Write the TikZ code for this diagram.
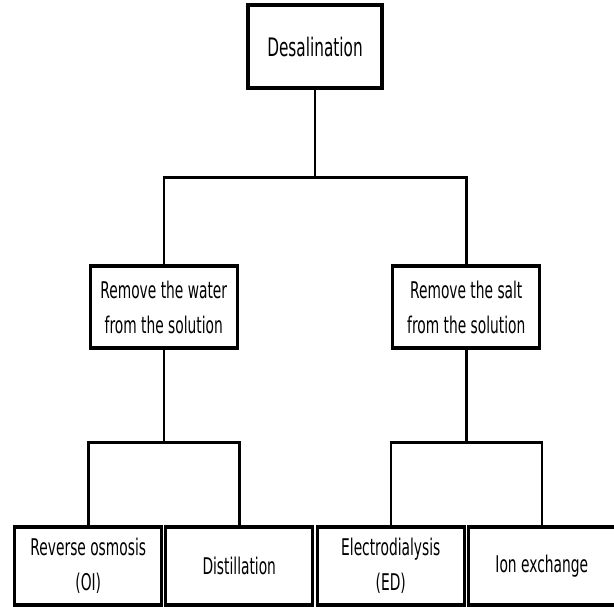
\documentclass[tikz,border=0pt]{standalone}
\usepackage{fontspec}
\setmainfont{DejaVu Sans}[FakeStretch=0.6]
\usetikzlibrary{trees}

\begin{document}
\begin{tikzpicture}[%
  x=1pt, y=1pt,
  every node/.style={draw, line width=3.2pt, align=center, inner sep=2pt,
    font=\fontsize{23}{35}\selectfont},
  edge from parent/.style={draw, line width=2.5pt},
  level 1/.style={sibling distance=302.5pt, level distance=260.5pt,
    nodes={minimum width=147pt, minimum height=82pt},
    edge from parent path={(\tikzparentnode.south) -- +(0,-88) -| (\tikzchildnode.north)}},
  level 2/.style={sibling distance=151pt, level distance=259pt,
    nodes={minimum width=147pt, minimum height=78pt},
    edge from parent path={(\tikzparentnode.south) -- +(0,-93) -| (\tikzchildnode.north)}}]
  \useasboundingbox (0,0) rectangle (614,-606);
  \node[minimum width=134pt, minimum height=83pt, font=\fontsize{25.5}{35}\selectfont]
    (desal) at (315,-46.5) {Desalination}
    child { node (rmwater) {Remove the water\\from the solution}
        child { node (revosm) {Reverse osmosis\\(OI)}}
        child { node (distil) {Distillation}}}
    child { node (rmsalt) {Remove the salt\\from the solution}
        child { node (elecdial) {Electrodialysis\\(ED)}}
        child { node (ionex) {Ion exchange}}};
\end{tikzpicture}
\end{document}
